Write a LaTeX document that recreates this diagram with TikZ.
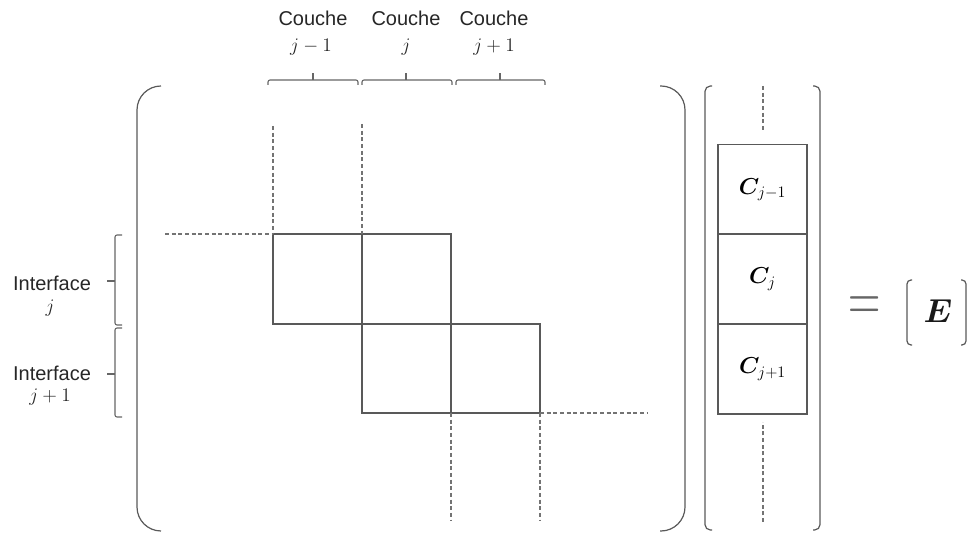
\documentclass[tikz,border=0pt]{standalone}
\usepackage{fontspec}
\usepackage{amsmath,bm}
\setmainfont{Liberation Sans}
\begin{document}
\begin{tikzpicture}[x=0.75pt,y=-0.75pt,
  ln/.style={draw=black!65, line width=0.9pt},
  dsh/.style={draw=black!55, line width=0.9pt, dash pattern=on 3pt off 2pt},
  lbl/.style={text=black!85, font=\fontsize{15}{17}\selectfont, inner sep=0pt},
  cbox/.style={ln, minimum width=66.75pt, minimum height=67.5pt, inner sep=0pt, font=\fontsize{17.5}{19}\selectfont},
  brc/.style={draw=black!60, line width=0.8pt, rounded corners=1.5pt}]
\useasboundingbox (0,0) rectangle (968,534);

% top labels
\node[lbl] (c1) at (313,18) {Couche};
\node[lbl] (c1m) at (311,47) {$j-1$};
\node[lbl] (c2) at (406,18) {Couche};
\node[lbl] (c2m) at (406,47) {$j$};
\node[lbl] (c3) at (494,18) {Couche};
\node[lbl] (c3m) at (494,47) {$j+1$};

% top braces
\draw[brc] (268,85) -- (268,80) -- (358,80) -- (358,85);
\draw[brc] (313,80) -- (313,73);
\draw[brc] (362,85) -- (362,80) -- (452,80) -- (452,85);
\draw[brc] (406,80) -- (406,73);
\draw[brc] (456,85) -- (456,80) -- (545,80) -- (545,85);
\draw[brc] (500,80) -- (500,73);

% left labels
\node[lbl] (i1) at (52,283) {Interface};
\node[lbl] (i1m) at (50,308) {$j$};
\node[lbl] (i2) at (52,373) {Interface};
\node[lbl] (i2m) at (50,397) {$j+1$};

% left braces
\draw[brc] (122,235) -- (115,235) -- (115,325) -- (122,325);
\draw[brc] (115,281) -- (107,281);
\draw[brc] (122,328) -- (115,328) -- (115,417) -- (122,417);
\draw[brc] (115,374) -- (107,374);

% big parentheses
\draw[ln, rounded corners=18pt] (161,86) -- (137,86) -- (137,531) -- (161,531);
\draw[ln, rounded corners=18pt] (660,86) -- (685,86) -- (685,531) -- (660,531);

% block matrix
\coordinate (a1) at (273,234);
\coordinate (a2) at (362,234);
\coordinate (a3) at (451,234);
\coordinate (b1) at (273,324);
\coordinate (b2) at (362,324);
\coordinate (b3) at (451,324);
\coordinate (b4) at (540,324);
\coordinate (d2) at (362,413);
\coordinate (d3) at (451,413);
\coordinate (d4) at (540,413);
\draw[ln] (a1) rectangle (b2);
\draw[ln] (a2) rectangle (b3);
\draw[ln] (b2) rectangle (d3);
\draw[ln] (b3) rectangle (d4);

% dashed extensions
\coordinate (t1) at (273,126);
\coordinate (t2) at (362,124);
\coordinate (l1) at (165,234);
\coordinate (r4) at (648,413);
\coordinate (u3) at (451,521);
\coordinate (u4) at (540,521);
\draw[dsh] (t1) -- (a1);
\draw[dsh] (t2) -- (a2);
\draw[dsh] (l1) -- (a1);
\draw[dsh] (d4) -- (r4);
\draw[dsh] (d3) -- (u3);
\draw[dsh] (d4) -- (u4);

% vector brackets
\draw[ln, rounded corners=4pt] (712,86) -- (705,86) -- (705,530) -- (712,530);
\draw[ln, rounded corners=4pt] (813,86) -- (820,86) -- (820,530) -- (813,530);

% C vector
\node[cbox] (cj1) at (762.5,189.5) {$\bm{C}_{j-1}$};
\node[cbox] (cj)  at (762.5,279)   {$\bm{C}_{j}$};
\node[cbox] (cj2) at (762.5,369)   {$\bm{C}_{j+1}$};
\coordinate (vt) at (763,86);
\coordinate (vb) at (763,522);
\draw[dsh] (vt) -- ++(0,46);
\draw[dsh] (vb) -- ++(0,-100);

% = [E]
\node[text=black!60, font=\fontsize{34}{36}\selectfont, inner sep=0pt, xscale=1.35, yscale=2.1] (eq) at (865,309.5) {$=$};
\node[text=black!90, font=\fontsize{33}{35}\selectfont, inner sep=0pt] (E) at (938,311) {$\bm{E}$};
\draw[ln, rounded corners=3pt] (912,280) -- (907,280) -- (907,345) -- (912,345);
\draw[ln, rounded corners=3pt] (961,280) -- (966,280) -- (966,345) -- (961,345);
\end{tikzpicture}
\end{document}
